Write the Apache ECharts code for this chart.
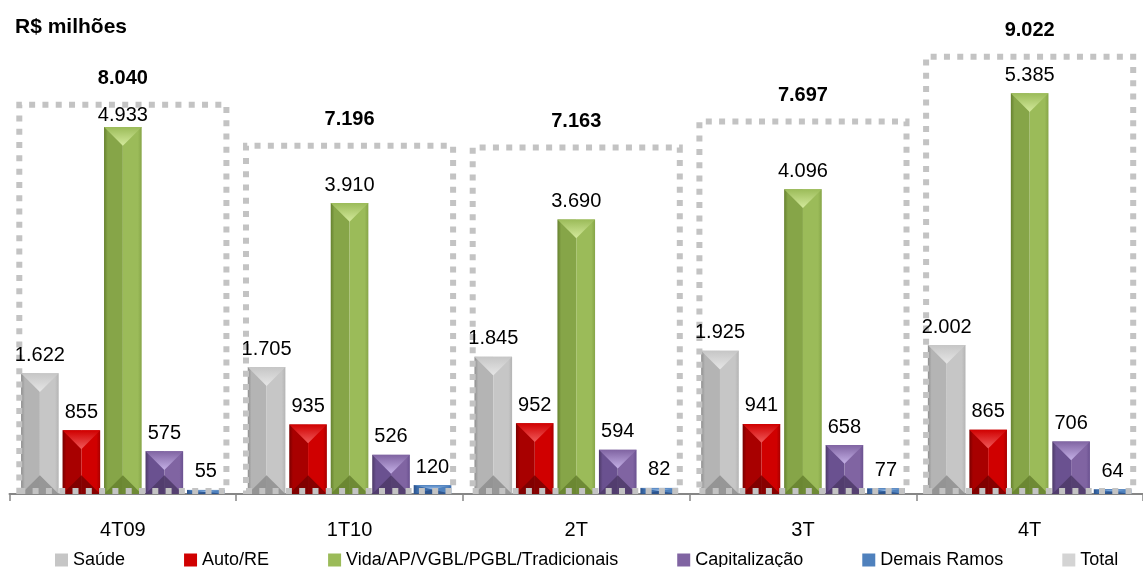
<!DOCTYPE html>
<html>
<head>
<meta charset="utf-8">
<script src="https://cdn.jsdelivr.net/npm/echarts@6/dist/echarts.min.js"></script>
<style>
html, body { margin: 0; padding: 0; background: #fff; }
#main { width: 1143px; height: 567px; }
</style>
</head>
<body>
<div id="main"></div>
<script>
var categories = ['4T09', '1T10', '2T', '3T', '4T'];
var saude = [1622, 1705, 1845, 1925, 2002];
var autoRe = [855, 935, 952, 941, 865];
var vida = [4933, 3910, 3690, 4096, 5385];
var capitalizacao = [575, 526, 594, 658, 706];
var demais = [55, 120, 82, 77, 64];
var total = [8040, 7196, 7163, 7697, 9022];

var seriesNames = ['Saúde', 'Auto/RE', 'Vida/AP/VGBL/PGBL/Tradicionais', 'Capitalização', 'Demais Ramos'];
var seriesValues = [saude, autoRe, vida, capitalizacao, demais];

var font = 'Liberation Sans, Arial, sans-serif';
var totalMax = 9150;

// left half, right half, top triangle, bottom triangle
var palette = [
	{ left: '#b4b4b4', right: '#c6c6c6', top: '#e6e6e6', bottom: '#8e8e8e' },
	{ left: '#a80000', right: '#d00000', top: '#f05a5a', bottom: '#7a0000' },
	{ left: '#86a548', right: '#9bbb59', top: '#d4ea9c', bottom: '#66812f' },
	{ left: '#6a5190', right: '#8064a2', top: '#c4b0e6', bottom: '#4d3a68' },
	{ left: '#3b6cab', right: '#4f81bd', top: '#9cc0ec', bottom: '#2a5088' }
];

function fmt(v) {
	return String(v).replace(/\B(?=(\d{3})+(?!\d))/g, '.');
}

// bar geometry inside one category band, from the axis scale
function barBox(sIdx, params, api) {
	var cat = api.value(0);
	var val = api.value(1);
	var base = api.coord([cat, 0]);
	var topPt = api.coord([cat, val]);
	var band = api.size([1, 0])[0];
	var pitch = band * 0.183;
	var w = band * 0.166;
	var xc = base[0] + (sIdx - 2) * pitch;
	return { cat: cat, xc: xc, x0: xc - w / 2, x1: xc + w / 2, y0: topPt[1], y1: base[1], w: w, val: val };
}

function bevelBar(sIdx) {
	var c = palette[sIdx];
	return function(params, api) {
		var b = barBox(sIdx, params, api);
		var h = b.y1 - b.y0;
		var t = Math.min(b.w / 2, h / 2);
		var G = echarts.graphic.LinearGradient;
		return {
			type: 'group',
			children: [{
				type: 'rect',
				shape: { x: b.x0, y: b.y0, width: b.w / 2, height: h },
				style: { fill: new G(0, 0, 1, 0, [{ offset: 0, color: c.bottom }, { offset: 0.2, color: c.left }, { offset: 1, color: c.left }]) }
			}, {
				type: 'rect',
				shape: { x: b.xc, y: b.y0, width: b.w / 2, height: h },
				style: { fill: new G(0, 0, 1, 0, [{ offset: 0, color: c.right }, { offset: 0.8, color: c.right }, { offset: 1, color: c.left }]) }
			}, {
				type: 'polygon',
				shape: { points: [[b.x0, b.y0], [b.x1, b.y0], [b.xc, b.y0 + t]] },
				style: { fill: new G(0, 0, 0, 1, [{ offset: 0, color: c.right }, { offset: 1, color: c.top }]) }
			}, {
				type: 'polygon',
				shape: { points: [[b.x0, b.y1], [b.x1, b.y1], [b.xc, b.y1 - t]] },
				style: { fill: c.bottom, opacity: 0.85 }
			}]
		};
	};
}

function barLabel(sIdx) {
	return function(params, api) {
		var b = barBox(sIdx, params, api);
		// keep the label inside the total box, like the original does
		var cs = params.coordSys;
		var boxTop = cs.y + cs.height * (1 - total[b.cat] / totalMax);
		var y = Math.max(b.y0 - 8, boxTop + 23.5);
		return {
			type: 'text',
			style: {
				text: fmt(b.val), x: b.xc, y: y,
				align: 'center', verticalAlign: 'bottom',
				fontSize: 20, fontFamily: font, fill: '#000'
			}
		};
	};
}

var series = [];
for (var s = 0; s < seriesNames.length; s++) {
	var pts = [];
	for (var i = 0; i < categories.length; i++) {
		pts.push([i, seriesValues[s][i]]);
	}
	series.push({
		name: seriesNames[s],
		type: 'custom',
		xAxisIndex: 0,
		yAxisIndex: 0,
		itemStyle: { color: palette[s].right },
		renderItem: bevelBar(s),
		encode: { x: 0, y: 1 },
		data: pts,
		z: 2
	});
	series.push({
		name: seriesNames[s],
		type: 'custom',
		xAxisIndex: 0,
		yAxisIndex: 0,
		itemStyle: { color: palette[s].right },
		renderItem: barLabel(s),
		encode: { x: 0, y: 1 },
		data: pts,
		silent: true,
		z: 6
	});
}
series.push({
	name: 'Total',
	type: 'bar',
	xAxisIndex: 1,
	yAxisIndex: 1,
	barWidth: '94%',
	data: total,
	z: 4,
	itemStyle: {
		color: 'rgba(0,0,0,0)',
		borderColor: '#c3c3c3',
		borderWidth: 6,
		borderType: [6, 7.3]
	},
	label: {
		show: true,
		position: 'top',
		distance: 13,
		fontSize: 20,
		fontWeight: 'bold',
		fontFamily: font,
		color: '#000',
		formatter: function(p) { return fmt(p.value); }
	},
	emphasis: { disabled: true }
});

var legendData = [];
for (var k = 0; k < seriesNames.length; k++) {
	legendData.push({ name: seriesNames[k], itemStyle: { color: palette[k].right } });
}
legendData.push({ name: 'Total', itemStyle: { color: '#d4d4d4', borderWidth: 0 } });

var myChart = echarts.init(document.getElementById('main'));
var option = {
	animation: false,
	backgroundColor: '#fff',
	title: {
		text: 'R$ milhões',
		left: 10,
		top: 12,
		textStyle: { fontSize: 21, fontWeight: 'bold', fontFamily: font, color: '#000' }
	},
	legend: {
		data: legendData,
		left: 50,
		top: 546,
		icon: 'rect',
		itemWidth: 13,
		itemHeight: 13,
		itemGap: 59,
		textStyle: { fontSize: 18, fontFamily: font, color: '#000' }
	},
	grid: {
		left: 9.5,
		width: 1147.5,
		top: 47.5,
		bottom: 73,
		containLabel: false
	},
	xAxis: [{
		type: 'category',
		data: categories,
		axisLine: { lineStyle: { color: '#868686', width: 2 } },
		axisTick: { show: true, length: 7, lineStyle: { color: '#868686', width: 1.5 } },
		axisLabel: { fontSize: 20, fontFamily: font, color: '#000', margin: 26 },
		splitLine: { show: false }
	}, {
		type: 'category',
		data: categories,
		show: false
	}],
	yAxis: [{
		type: 'value',
		min: 0,
		max: 6000,
		show: false,
		splitLine: { show: false }
	}, {
		type: 'value',
		min: 0,
		max: totalMax,
		show: false,
		splitLine: { show: false }
	}],
	series: series
};
myChart.setOption(option);
</script>
</body>
</html>
